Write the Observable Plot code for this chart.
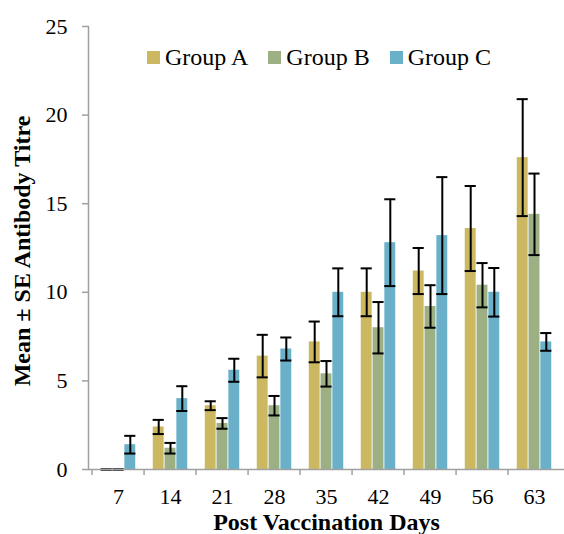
<!DOCTYPE html>
<html><head><meta charset="utf-8">
<script src="https://cdn.jsdelivr.net/npm/d3@7"></script>
<script src="https://cdn.jsdelivr.net/npm/@observablehq/plot@0.6"></script>
<style>
body{margin:0;background:#fff;}
#wrap{position:relative;width:564px;height:534px;font-family:"Liberation Serif","Times New Roman",serif;}
#legend{position:absolute;top:44px;left:147px;display:flex;align-items:center;gap:20px;font-size:24px;color:#000;}
#legend .item{display:flex;align-items:center;}
#legend .sw{width:13px;height:13px;margin-right:5px;display:inline-block;}
</style>
</head><body>
<div id="wrap"><div id="chart"></div><div id="legend"></div></div>
<script>
const days = ["7","14","21","28","35","42","49","56","63"];
const groups = ["Group A","Group B","Group C"];
const colors = ["#CDB862","#9DB084","#6AB0C8"];
const groupA = [0, 2.4, 3.6, 6.4, 7.2, 10.0, 11.2, 13.6, 17.6];
const seA    = [0, 0.4, 0.25, 1.2, 1.15, 1.35, 1.3, 2.4, 3.3];
const groupB = [0, 1.2, 2.6, 3.6, 5.4, 8.0, 9.2, 10.4, 14.4];
const seB    = [0, 0.3, 0.3, 0.55, 0.72, 1.45, 1.2, 1.25, 2.3];
const groupC = [1.4, 4.0, 5.6, 6.8, 10.0, 12.8, 13.2, 10.0, 7.2];
const seC    = [0.5, 0.7, 0.65, 0.65, 1.35, 2.45, 3.3, 1.37, 0.5];
const yTicks = [0, 5, 10, 15, 20, 25];
const xTitle = "Post Vaccination Days";
const yTitle = "Mean \u00B1 SE Antibody Titre";

const series = [groupA, groupB, groupC];
const ses = [seA, seB, seC];

const W = 564, H = 534, mL = 88, mR = 0, mT = 26, mB = 65;
const bw = (W - mL - mR) / days.length;
const barW = 11.8;
const inset = (bw - barW) / 2;
const capInset = (bw - 12) / 2;

const marks = [];
groups.forEach((g, gi) => {
  const rows = days.map((d, i) => ({day: d, group: g, value: series[gi][i], se: ses[gi][i]}));
  const dx = (gi - 1) * barW;
  marks.push(Plot.barY(rows, {x: "day", y: "value", fill: colors[gi], insetLeft: inset, insetRight: inset, dx}));
});
groups.forEach((g, gi) => {
  const rows = days.map((d, i) => ({day: d, group: g, value: series[gi][i], se: ses[gi][i]}));
  const dx = (gi - 1) * barW;
  marks.push(Plot.ruleX(rows, {x: "day", y1: d => d.value - d.se, y2: d => d.value + d.se, stroke: "#000", strokeWidth: 2, dx}));
  marks.push(Plot.tickY(rows, {x: "day", y: d => d.value + d.se, stroke: "#000", strokeWidth: 2, insetLeft: capInset, insetRight: capInset, dx}));
  marks.push(Plot.tickY(rows, {x: "day", y: d => d.value - d.se, stroke: "#000", strokeWidth: 2, insetLeft: capInset, insetRight: capInset, dx}));
});

const chart = Plot.plot({
  width: W, height: H,
  marginLeft: mL, marginRight: mR, marginTop: mT, marginBottom: mB,
  style: {fontFamily: "'Liberation Serif','Times New Roman',serif", background: "#fff", color: "#000"},
  x: {type: "band", domain: days, paddingInner: 0, paddingOuter: 0, axis: null},
  y: {domain: [0, 25], axis: null},
  marks: [
    ...marks,
    Plot.ruleY([0], {stroke: "#a0a0a0", strokeWidth: 1.5}),
    Plot.frame({anchor: "left", stroke: "#a0a0a0", strokeWidth: 1.5}),
    Plot.axisY({ticks: yTicks, tickSize: 6, tickPadding: 15, stroke: "#a0a0a0", strokeWidth: 1.5, fontSize: 22, label: null}),
    Plot.axisX({tickSize: 0, tickPadding: 19, fontSize: 22, label: null}),
    Plot.axisX({tickSize: 6, tickFormat: () => "", dx: -bw / 2, stroke: "#a0a0a0", strokeWidth: 1.5, label: null}),
    Plot.text([xTitle], {text: d => d, frameAnchor: "bottom", lineAnchor: "middle", textAnchor: "middle", dy: 53, fontSize: 24, fontWeight: "bold"}),
    Plot.text([yTitle], {text: d => d, frameAnchor: "left", lineAnchor: "middle", textAnchor: "middle", rotate: -90, dx: -66, dy: 3, fontSize: 24, fontWeight: "bold"})
  ]
});
document.getElementById("chart").appendChild(chart);

const legend = document.getElementById("legend");
groups.forEach((g, gi) => {
  const item = document.createElement("div");
  item.className = "item";
  const sw = document.createElement("span");
  sw.className = "sw";
  sw.style.background = colors[gi];
  const t = document.createElement("span");
  t.textContent = g;
  item.appendChild(sw); item.appendChild(t);
  legend.appendChild(item);
});
</script>
</body></html>
